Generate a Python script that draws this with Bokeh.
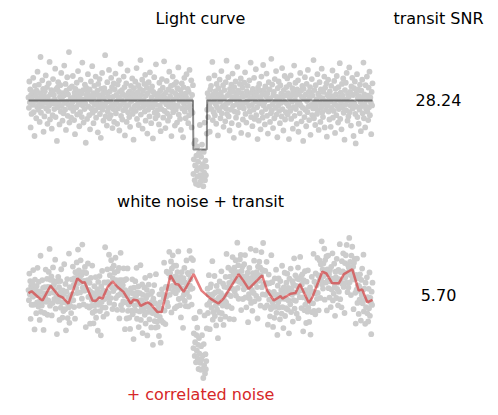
import numpy as np
from bokeh.plotting import figure
from bokeh.models import Range1d, Label
from bokeh.embed import file_html
from bokeh.resources import INLINE

# ---------------- data ----------------
# white-noise residuals, in units of 1.25e-4 relative flux (evenly sampled in time)
white_noise = [
    5,-12,31,-3,18,-44,9,-22,2,14,-7,37,-19,11,-58,24,-1,8,-29,16,
    -10,47,3,-15,26,-6,-35,12,71,-20,4,-9,33,-2,19,-51,7,-26,15,-4,
    41,-13,0,22,-38,6,-17,28,-8,63,-31,10,-1,17,-46,13,-24,35,-5,9,
    -14,2,52,-27,18,-6,-66,21,-11,30,-3,14,-39,6,25,-18,45,-9,1,-33,
    12,-21,8,57,-4,-15,27,-48,16,-2,38,-25,10,-7,79,-36,20,-12,3,-28,
    -9,23,-3,40,-17,6,-32,13,-55,19,1,-11,29,-23,8,48,-6,15,-42,4,
    -19,34,-1,11,-27,62,-8,17,-36,2,-14,26,-5,-69,21,9,-30,14,43,-10,
    3,-24,18,-47,7,31,-13,-2,56,-20,12,-37,5,24,-7,-16,39,-28,10,-4,
    16,-52,27,-11,2,35,-22,8,-61,19,-6,45,-15,11,-33,4,20,-9,74,-26,
    13,-3,-41,30,-18,7,-12,50,-29,15,-1,-24,37,-8,22,-45,6,-14,28,-35,
    18,-6,44,-21,9,-2,-38,26,-13,5,33,-49,14,-8,60,-25,1,17,-31,10,
    -16,39,-4,22,-57,8,-11,28,-35,3,49,-19,12,-7,-27,15,-43,6,24,-1,
    -14,36,-22,11,-64,20,2,-9,31,-17,7,53,-30,13,-5,25,-40,4,-12,19,
    66,-23,9,-3,34,-46,16,-10,1,27,-18,42,-33,8,-6,21,-54,12,-15,30,
    -2,-26,46,-9,17,-37,5,23,-11,-62,14,-4,38,-20,10,-29,59,-7,2,-16,
    -24,11,3,-39,29,-8,16,-50,6,-14,35,-2,21,-28,9,64,-17,4,-45,13,
    -6,32,-21,1,-33,18,-10,47,-26,7,-3,24,-58,15,-12,39,-19,2,26,-7,
    -41,12,-15,30,5,-36,20,-9,54,-23,8,-1,-30,17,-48,10,28,-13,3,-60,
    22,-5,37,-18,11,-29,6,43,-11,-2,19,-37,14,-24,50,-8,1,-16,33,-44,
    9,-20,25,-40,-16,10,-50,-26,15,-56,-10,-34,5,-44,-20,-58,-6,-30,40,-42,
    -52,-12,-32,8,-47,-24,-60,-4,-38,44,-50,-18,-42,-28,26,-15,12,-27,4,36,
    -9,-51,18,-3,24,-14,7,63,-32,10,-19,1,41,-24,15,-6,-38,27,-11,5,
    -57,20,9,-16,34,-2,-29,13,48,-21,6,-10,25,-43,3,17,-7,-34,30,-13,
    65,-22,8,-4,38,-26,11,-49,19,-1,-15,26,-37,5,44,-9,14,-61,22,-18,
    2,31,-28,9,-6,55,-20,16,-40,4,-11,27,-3,36,-53,12,-8,21,-31,7,
    -13,29,-4,46,-22,8,-36,15,-1,24,-56,11,-9,33,-18,3,62,-27,13,-7,
    -42,19,5,-15,37,-30,9,-2,51,-24,14,-11,-63,21,6,-33,27,-5,16,-47,
    2,39,-19,10,-28,58,-8,17,-3,-39,23,-14,7,44,-25,12,-54,1,30,-10,
    18,-35,4,-21,68,-16,26,-6,-45,9,14,-29,35,-12,-1,48,-23,6,-60,20,
    -8,31,-17,3,-37,25,-4,11,-26,53,-14,7,-49,17,-2,40,-31,8,-19,22,
    -5,36,-23,12,-9,-63,26,4,-17,41,-30,8,-2,20,-46,15,-11,57,-25,1,
    29,-14,9,-38,18,-6,33,-51,11,-3,-21,45,-8,16,-34,6,24,-12,-66,19,
    3,-27,38,-15,10,-42,27,-1,-19,50,-10,14,-32,5,22,-56,13,-7,35,-24,
    8,-13,66,-29,17,-4,-40,25,-9,2,-22,43,-16,11,-48,7,30,-3,-35,18,
    -11,52,-20,4,-27,14,-6,39,-44,21,-1,-15,28,-59,9,-8,34,-18,6,-31,
    15,-2,-43,24,-12,7,49,-28,3,-17,32,-6,-53,19,10,-24,40,-9,1,-36,
    22,-14,5,61,-30,13,-4,-47,27,-11,8,36,-20,2,-64,17,-7,29,-16,45,
    -1,-33,11,-26,6,54,-19,14,-8,-41,23,-3,37,-13,9,-58,20,-5,31,-22,
    -70,12,-10,43,-27,4,18,-38,7,-15,26,-2,-50,16,-9,34,-21,3,62,-29,
    10,-6,-44,25,-13,1,39,-18,8,-32,21,-11,47,-24,5,-3,-55,14,-8,28,
]

# box transit model (time as fraction of the window, depth in the same 1.25e-4 units)
transit_start = 0.479
transit_end = 0.519
transit_depth = 80

# correlated-noise curve (time fraction, same flux units)
corr_time = [0.000, 0.009, 0.035, 0.041, 0.064, 0.087, 0.099, 0.116, 0.142, 0.157,
             0.163, 0.186, 0.195, 0.206, 0.215, 0.230, 0.244, 0.259, 0.276, 0.297,
             0.305, 0.317, 0.326, 0.346, 0.355, 0.375, 0.387, 0.413, 0.427, 0.436,
             0.451, 0.480, 0.503, 0.529, 0.552, 0.567, 0.611, 0.625, 0.640, 0.679,
             0.694, 0.713, 0.733, 0.738, 0.762, 0.776, 0.789, 0.815, 0.825, 0.854,
             0.866, 0.883, 0.902, 0.917, 0.941, 0.960, 0.970, 0.985, 1.000]
corr_flux = [-1, 2, -11, -13, 11, -5, -8, -18, 23, 16,
             17, -13, -14, -8, -10, 9, 18, 9, 1, -18,
             -12, -13, -22, -16, -19, -32, -32, 28, 14, 13,
             1, 30, 3, -10, -18, -10, 30, 19, 6, 28,
             3, -13, -6, -10, -2, -1, 14, -17, -8, 34,
             31, 15, 15, 30, 38, 3, 5, -16, -12]

header_left = "Light curve"
header_right = "transit SNR"
caption_white = "white noise + transit"
caption_corr = "+ correlated noise"
snr_values = ["28.24", "5.70"]

# ---------------- derived ----------------
n = len(white_noise)
time = np.linspace(0.0, 1.0, n)
model = np.where((time >= transit_start) & (time <= transit_end), -float(transit_depth), 0.0)
flux_white = model + np.array(white_noise, dtype=float)
flux_corr = flux_white + np.interp(time, corr_time, corr_flux)

# ---------------- layout (page pixels) ----------------
W, H = 490, 410
x0_px, x1_px = 28.0, 372.0         # where time 0 and 1 fall
px_per_unit = 49.0 / 80.0          # vertical pixels per flux unit
base_top, base_bot = 100.0, 292.0  # baseline of each panel

span = x1_px - x0_px
x_start = -x0_px / span
x_end = x_start + W / span

def yrange(base):
    return Range1d((base - H) / px_per_unit, base / px_per_unit)

p = figure(width=W, height=H, x_range=Range1d(x_start, x_end), y_range=yrange(base_top),
           x_axis_type=None, y_axis_type=None, toolbar_location=None,
           output_backend="svg", min_border=0)
p.extra_y_ranges = {"bot": yrange(base_bot)}
p.outline_line_color = None
p.grid.visible = False
p.background_fill_color = "white"
p.border_fill_color = "white"

pt_color = "#cccccc"
p.scatter(time, flux_white, size=5.8, color=pt_color, line_color=None)
p.scatter(time, flux_corr, size=5.8, color=pt_color, line_color=None, y_range_name="bot")
p.line(time, model, line_color="black", line_alpha=0.45, line_width=2)
p.line(corr_time, corr_flux, line_color="#d62728", line_alpha=0.6, line_width=2.5,
       y_range_name="bot")

def pos(xi, yi):
    return (xi - x0_px) / span, (base_top - yi) / px_per_unit

def add_text(txt, xi, yi, color="black"):
    x, y = pos(xi, yi)
    p.add_layout(Label(x=x, y=y, y_offset=6.5, text=txt, text_align="center",
                       text_baseline="alphabetic", text_font="DejaVu Sans",
                       text_font_size="16px", text_color=color))

add_text(header_left, 200, 24.5)
add_text(header_right, 438, 24.5)
add_text(caption_white, 200, 207)
add_text(caption_corr, 200, 400, color="#d62728")
add_text(snr_values[0], 438, 106)
add_text(snr_values[1], 438, 301)

open("out.html", "w").write(file_html(p, INLINE))
